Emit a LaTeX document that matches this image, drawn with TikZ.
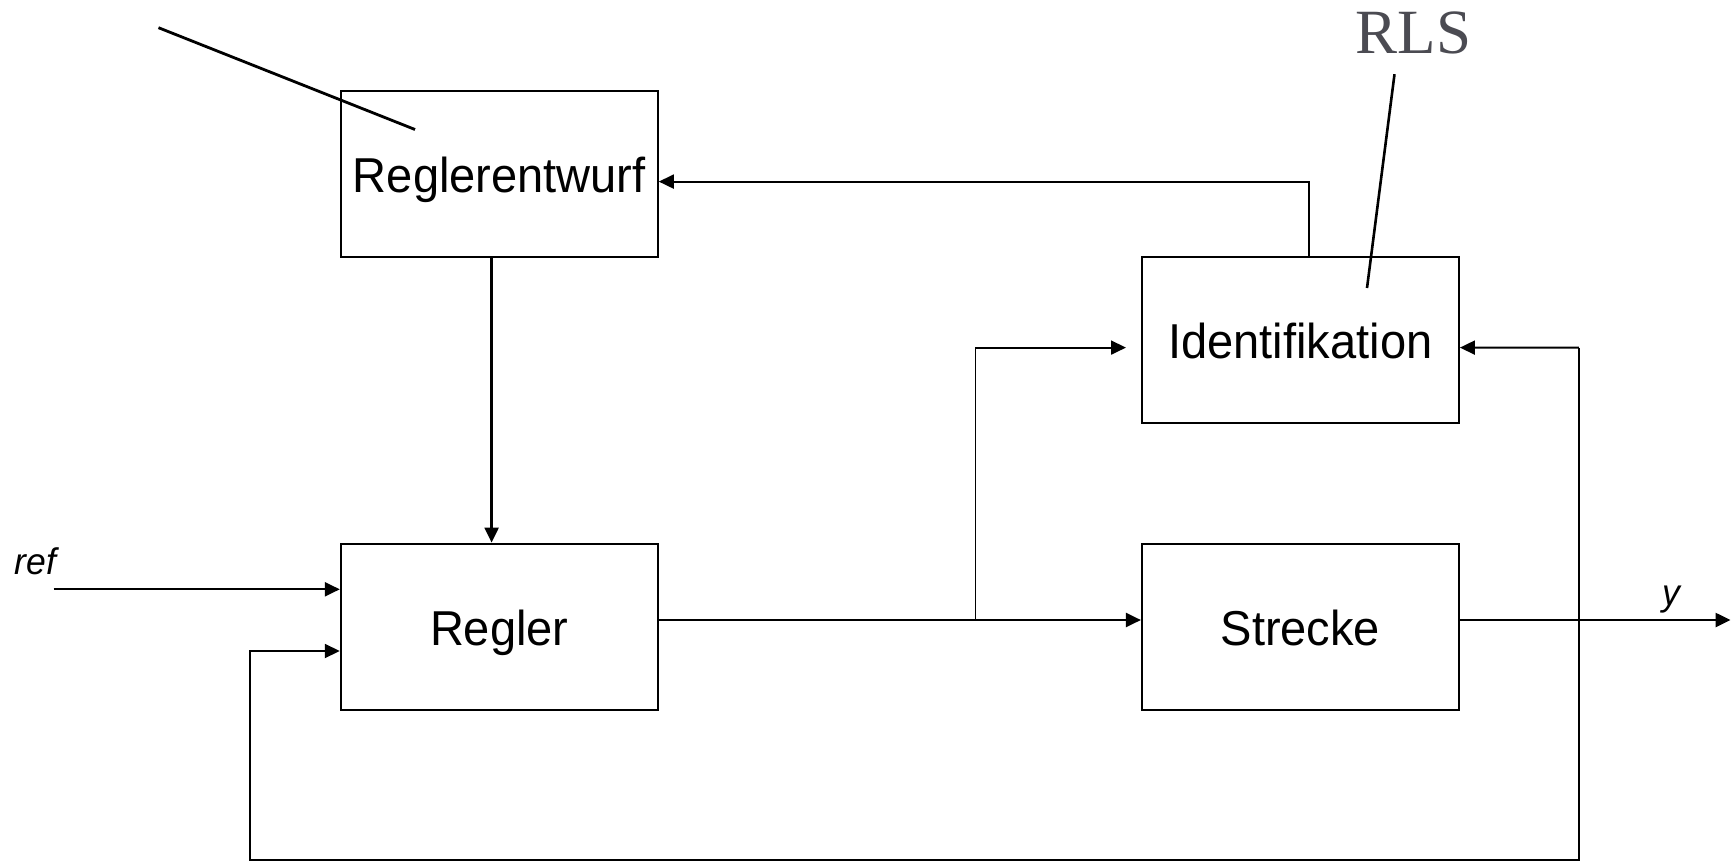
\documentclass[tikz,border=0pt]{standalone}
\usepackage{fontspec}
\setmainfont[FakeStretch=0.96]{Liberation Sans}
\newfontfamily\rlsfont{Liberation Serif}
\usetikzlibrary{arrows.meta}
\definecolor{rlsgray}{RGB}{75,75,82}
\begin{document}
\begin{tikzpicture}[x=1pt,y=-1pt,
  blockbox/.style={draw,line width=2pt,minimum width=317pt,minimum height=166pt,inner sep=0pt,
    text height=38pt,text depth=0pt,font=\fontsize{49}{58}\selectfont},
  arr/.style={line width=2.3pt,-{Triangle[length=15pt,width=14pt]}},
  siglabel/.style={font=\fontsize{37}{44}\selectfont\itshape,inner sep=0pt}]
\useasboundingbox (0,0) rectangle (1736,862);
% blocks
\node[blockbox] (rentw) at (499.3,173.9) {Reglerentwurf};
\node[blockbox] (ident) at (1300.4,339.9) {Identifikation};
\node[blockbox] (regler) at (499.3,626.6) {Regler};
\node[blockbox] (strecke) at (1300.4,626.6) {Strecke};
% labels
\node[siglabel,anchor=base west] (reflab) at (14.7,574) {ref};
\node[siglabel,anchor=base] (ylab) at (1671,605.6) {y};
\node[anchor=base west,inner sep=0pt,text=rlsgray,font=\rlsfont\fontsize{63}{75}\selectfont] (rls) at (1355.6,53.3) {RLS};
% coordinates
\coordinate (refstart) at (53.5,589.3);
\coordinate (branch) at (975.4,620);
\coordinate (identin) at (1126,347.6);
\coordinate (fbtop) at (1578.8,347.6);
\coordinate (fbbr) at (1578.8,860.2);
\coordinate (fbbl) at (250.2,860.2);
\coordinate (fbup) at (250.2,651);
\coordinate (yend) at (1730.5,620);
\coordinate (diagA) at (158.5,27.7);
\coordinate (diagB) at (415,129.5);
\coordinate (rlsA) at (1394.5,74.2);
\coordinate (rlsB) at (1367,288);
% connectors
\draw[arr] ([xshift=-7.7pt]rentw.south) -- ([xshift=-7.7pt]regler.north);
\draw[arr,line width=1.9pt] ([xshift=8.2pt]ident.north) |- ([yshift=-7.7pt]rentw.east);
\draw[arr] (refstart) -- (refstart -| regler.west);
\draw[arr] ([yshift=6.6pt]regler.east) -- ([yshift=6.6pt]strecke.west);
\draw[arr,line width=1.8pt] (branch) |- (identin);
\draw[arr,line width=1.9pt] (fbtop) -- ([yshift=-7.7pt]ident.east);
\draw[arr,line width=1.8pt] (fbtop) -- (fbbr) -- (fbbl) -- (fbup) -- (fbup -| regler.west);
\draw[arr,line width=2.5pt] ([yshift=6.6pt]strecke.east) -- (yend);
% annotation lines
\draw[line width=2.8pt] (diagA) -- (diagB);
\draw[line width=2.6pt] (rlsA) -- (rlsB);
\end{tikzpicture}
\end{document}
